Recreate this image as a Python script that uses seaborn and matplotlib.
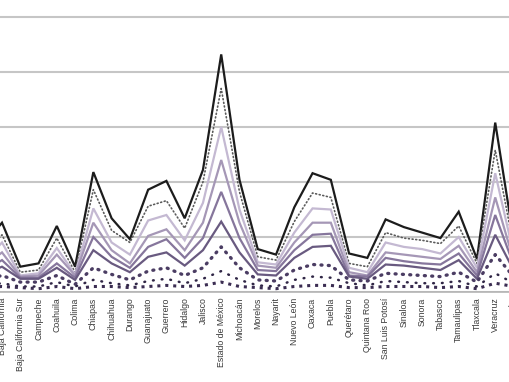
import matplotlib
matplotlib.use("Agg")
import matplotlib.pyplot as plt
from matplotlib import font_manager
import seaborn as sns

sns.set_style("white")

# narrow font for the state names if there is one, else a smaller regular one
font_names = {f.name for f in font_manager.fontManager.ttflist}
if 'Liberation Sans Narrow' in font_names:
    label_font, label_size = 'Liberation Sans Narrow', 7.2
else:
    label_font, label_size = 'Liberation Sans', 6.3
plt.rcParams['font.family'] = [label_font, 'DejaVu Sans']

states = ['Aguascalientes', 'Baja California', 'Baja California Sur', 'Campeche',
          'Coahuila', 'Colima', 'Chiapas', 'Chihuahua', 'Durango', 'Guanajuato',
          'Guerrero', 'Hidalgo', 'Jalisco', 'Estado de México', 'Michoacán',
          'Morelos', 'Nayarit', 'Nuevo León', 'Oaxaca', 'Puebla', 'Querétaro',
          'Quintana Roo', 'San Luis Potosí', 'Sinaloa', 'Sonora', 'Tabasco',
          'Tamaulipas', 'Tlaxcala', 'Veracruz', 'Yucatán', 'Zacatecas']

# series values, top line to bottom line
s1 = [43, 63, 23, 26, 60, 23, 109, 67, 48, 93, 101, 67, 111, 216, 102, 39, 34, 77,
      108, 102, 35, 31, 66, 59, 54, 49, 73, 30, 154, 49, 40]
s2 = [34, 52, 18, 20, 49, 18, 93, 56, 45, 78, 83, 58, 100, 185, 91, 32, 29, 64,
      90, 86, 26, 23, 54, 49, 47, 44, 60, 26, 129, 42, 33]
s3 = [27, 45, 15, 17, 40, 16, 76, 45, 34, 65, 70, 47, 81, 150, 75, 27, 25, 54,
      76, 75, 22, 18, 45, 41, 39, 35, 50, 22, 108, 35, 27]
s4 = [23, 36, 14, 15, 34, 15, 63, 38, 26, 51, 57, 38, 63, 120, 63, 24, 22, 45,
      63, 63, 18, 15, 36, 34, 32, 30, 42, 18, 86, 29, 23]
s5 = [19, 29, 13, 13, 26, 13, 50, 32, 22, 41, 48, 31, 49, 91, 49, 20, 19, 38,
      52, 53, 15, 14, 31, 28, 26, 25, 35, 15, 70, 25, 19]
s6 = [16, 23, 12, 12, 22, 11, 38, 26, 18, 32, 36, 24, 38, 64, 36, 16, 15, 31,
      41, 42, 14, 12, 25, 24, 22, 20, 29, 12, 52, 20, 16]
s7 = [11, 15, 9, 9, 15, 7, 22, 16, 11, 19, 22, 15, 22, 41, 22, 11, 10, 20,
      25, 24, 11, 10, 17, 16, 15, 14, 18, 9, 34, 14, 11]
s8 = [6, 8, 5, 5, 9, 5, 11, 8, 6, 10, 12, 8, 12, 19, 11, 6, 5, 11,
      14, 13, 8, 6, 10, 9, 8, 8, 10, 5, 17, 8, 6]
s9 = [4, 5, 4, 3, 5, 3, 5, 5, 4, 5, 6, 5, 6, 9, 5, 4, 3, 5,
      6, 6, 4, 4, 5, 5, 5, 4, 5, 3, 8, 5, 4]

series = [s1, s2, s3, s4, s5, s6, s7, s8, s9]
colors = ['#1c1c1c', '#5a5a5a', '#c4b9d2', '#a597b6', '#86769c', '#695a80',
          '#4b3d63', '#2f2545', '#3b2d52']
widths = [1.6, 1.2, 1.6, 1.6, 1.6, 1.6, 2.4, 1.8, 2.2]
styles = ['-', (0, (0.6, 1.6)), '-', '-', '-', '-', (0, (0.3, 1.9)),
          (0, (0.3, 3.2)), (0, (1, 1.6))]
caps = ['round', 'round', 'round', 'round', 'round', 'round', 'round', 'round', 'butt']

fig = plt.figure(figsize=(5.1, 3.82), dpi=100)
# the picture is a crop of a wider chart, so the axes run past the figure edges
ax = fig.add_axes([-0.0498, 0.2356, 1.1104, 0.8639])

for vals, c, w, ls, cap in zip(series, colors, widths, styles, caps):
    sns.lineplot(x=states, y=vals, ax=ax, color=c, linewidth=w, sort=False,
                 linestyle=ls, dash_capstyle=cap, solid_joinstyle='miter')

ax.set_xlim(-0.5, 30.5)
ax.set_ylim(0, 300)
ax.set_yticks(range(0, 301, 50))
ax.yaxis.grid(True, color='#c6c6c6', linewidth=1.5)
ax.set_axisbelow(True)
for side in ['top', 'right', 'left']:
    ax.spines[side].set_visible(False)
ax.spines['bottom'].set_color('#b4b4b4')
ax.spines['bottom'].set_linewidth(1.2)
ax.tick_params(axis='x', length=0, pad=4, labelsize=label_size,
               labelcolor='#3a3a3a', rotation=90)
ax.tick_params(axis='y', length=0)
for lab in ax.get_xticklabels():
    lab.set_verticalalignment('top')
ax.set_xlabel('')
ax.set_ylabel('')

fig.savefig('out.png', dpi=100)
